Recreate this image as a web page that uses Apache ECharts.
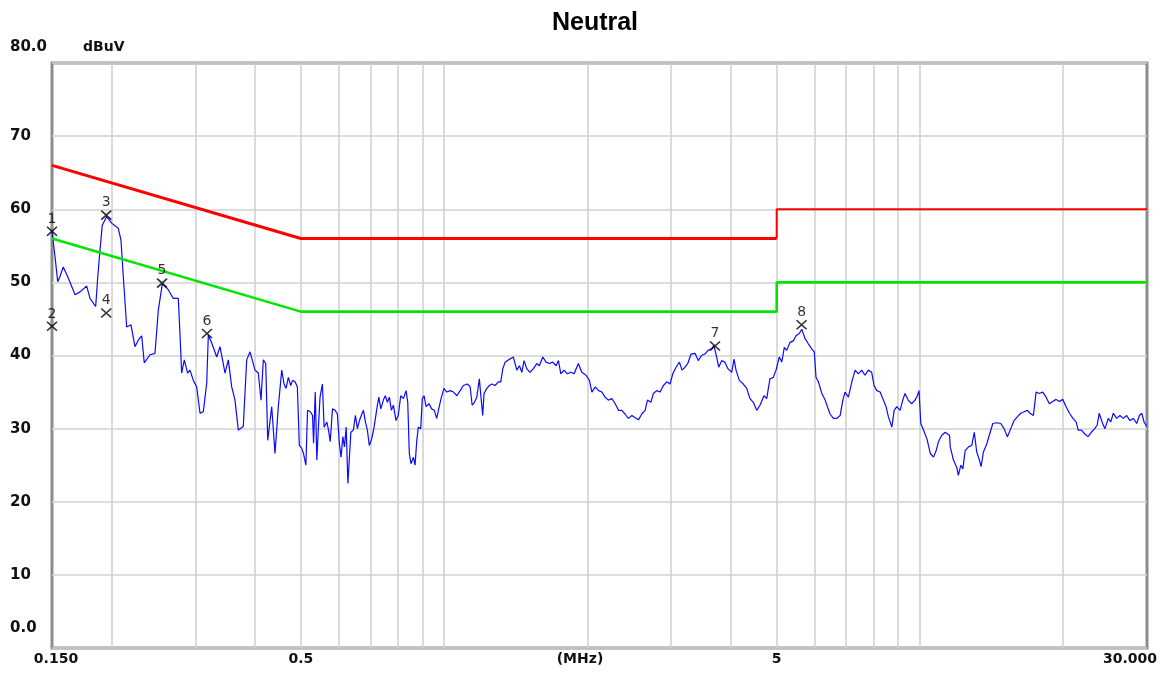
<!DOCTYPE html>
<html>
<head>
<meta charset="utf-8">
<script src="https://cdn.jsdelivr.net/npm/echarts@6/dist/echarts.min.js"></script>
<style>
html,body{margin:0;padding:0;background:#fff;}
#chart{width:1161px;height:673px;}
</style>
</head>
<body>
<div id="chart"></div>
<script>
// ---- data ----
const titleText = 'Neutral';
const yUnit = 'dBuV';
const xUnit = '(MHz)';
const xTickValues = [0.15, 0.5, 5, 30];
const xTickLabels = ['0.150', '0.5', '5', '30.000'];
const yTickValues = [0, 10, 20, 30, 40, 50, 60, 70, 80];
const gridFreqs = [0.2, 0.3, 0.4, 0.5, 0.6, 0.7, 0.8, 0.9, 1, 2, 3, 4, 5, 6, 7, 8, 9, 10, 20];

const qpLimitA = [[0.15, 66], [0.5, 56], [5, 56]];
const qpLimitB = [[5, 56], [5, 60], [30, 60]];
const avLimit = [[0.15, 56], [0.5, 46], [5, 46], [5, 50], [30, 50]];

const markerFreq = [0.150, 0.150, 0.195, 0.195, 0.2555, 0.3175, 3.71, 5.64];
const markerVal  = [57.0, 44.0, 59.2, 45.8, 49.9, 43.0, 41.3, 44.2];
const markerName = ['1', '2', '3', '4', '5', '6', '7', '8'];

const trace = [
[0.150,57.0],[0.1522,53.5],[0.1542,50.1],[0.1559,50.8],[0.1584,52.1],[0.1623,50.6],[0.1677,48.3],[0.1718,48.7],
[0.1774,49.5],[0.1803,47.8],[0.1853,46.7],[0.1871,50.6],[0.1892,54.4],[0.1913,57.8],[0.1954,59.0],[0.2002,58.1],
[0.2067,57.4],[0.2094,55.8],[0.2118,50.8],[0.2153,43.9],[0.2198,44.2],[0.2241,41.2],[0.2277,42.1],[0.2315,42.7],
[0.2344,39.0],[0.2410,40.1],[0.2469,40.3],[0.2509,46.2],[0.2558,49.8],[0.2633,49.0],[0.2697,47.8],[0.2764,47.8],
[0.2786,43.0],[0.2809,37.6],[0.2845,39.4],[0.2892,37.6],[0.2925,38.0],[0.2972,36.6],[0.3021,35.7],[0.3070,32.1],
[0.3119,32.3],[0.3171,36.2],[0.3196,42.8],[0.3249,41.7],[0.3328,39.8],[0.3382,41.2],[0.3465,37.6],[0.3520,39.4],
[0.3579,35.7],[0.3636,33.9],[0.3695,29.8],[0.3785,30.3],[0.3848,39.4],[0.3910,40.5],[0.4006,38.0],[0.4070,37.6],
[0.4124,33.9],[0.4170,39.4],[0.4219,38.9],[0.4260,28.4],[0.4343,33.0],[0.4413,26.6],[0.4484,33.0],[0.4559,38.0],
[0.458,38.2],[0.461,36.1],[0.4655,35.5],[0.4707,37.0],[0.4761,35.9],[0.4807,36.6],[0.4862,36.4],[0.4917,35.7],
[0.4964,27.7],[0.5023,27.3],[0.5064,26.6],[0.5124,25.0],[0.5165,32.5],[0.5234,32.3],[0.5292,31.8],[0.5318,28.0],
[0.5361,35.0],[0.5403,25.7],[0.5444,30.2],[0.5487,34.3],[0.555,36.1],[0.5597,30.2],[0.5672,30.9],[0.5717,29.8],
[0.5764,28.2],[0.5828,32.7],[0.5903,32.5],[0.5967,32.0],[0.6024,28.0],[0.6076,26.1],[0.6127,28.9],[0.6176,27.5],
[0.6227,30.2],[0.6279,22.5],[0.6318,22.3],[0.637,29.5],[0.6448,29.8],[0.651,31.8],[0.6575,30.0],[0.664,31.1],
[0.6718,32.0],[0.677,32.5],[0.6835,30.9],[0.69,29.8],[0.6964,27.7],[0.7046,28.6],[0.7127,30.2],[0.7222,32.7],
[0.7292,34.3],[0.7363,32.7],[0.7454,33.9],[0.7526,34.5],[0.7601,33.6],[0.7675,34.3],[0.775,32.5],[0.7825,33.2],
[0.7925,31.1],[0.8012,31.8],[0.8108,34.5],[0.8212,34.1],[0.832,35.2],[0.8388,33.6],[0.8452,26.6],[0.8521,25.2],
[0.8619,26.1],[0.869,25.0],[0.8763,28.4],[0.883,30.2],[0.8932,30.0],[0.9,34.1],[0.9076,34.5],[0.9165,33.0],
[0.9299,33.4],[0.9419,32.7],[0.9538,32.5],[0.9651,31.4],[0.9745,32.7],[0.9854,34.1],[0.9995,35.5],[1.0132,35.0],
[1.0299,35.2],[1.0467,35.0],[1.064,34.5],[1.0808,35.2],[1.0975,35.9],[1.1195,36.1],[1.1345,35.7],[1.1456,33.2],
[1.1583,33.6],[1.1717,34.3],[1.1861,36.8],[1.1956,34.3],[1.2055,31.8],[1.2133,34.8],[1.2297,35.5],[1.2455,35.9],
[1.26,36.1],[1.28,35.9],[1.3,36.4],[1.3157,36.4],[1.3288,38.2],[1.3438,39.1],[1.3654,39.4],[1.3765,39.5],
[1.398,39.8],[1.4217,38.0],[1.44,38.6],[1.4567,37.7],[1.4728,39.3],[1.4916,38.2],[1.5158,37.7],[1.5406,38.2],
[1.5662,38.9],[1.5857,38.6],[1.612,39.8],[1.6384,39.1],[1.6648,38.9],[1.692,39.1],[1.7195,38.6],[1.739,39.3],
[1.7593,37.5],[1.7873,38.0],[1.8161,37.5],[1.8464,37.7],[1.8759,37.5],[1.9151,38.9],[1.9472,37.7],[1.9877,37.3],
[2.0203,36.6],[2.0447,35.0],[2.0782,35.7],[2.1117,35.2],[2.1462,35.0],[2.1797,34.3],[2.2144,33.9],[2.2522,34.1],
[2.2889,33.4],[2.3256,32.5],[2.3633,32.5],[2.4,32.0],[2.44,31.4],[2.4812,31.8],[2.5212,31.5],[2.5612,31.2],
[2.6026,32.0],[2.6455,32.5],[2.6754,33.9],[2.7195,33.6],[2.7532,34.8],[2.7974,35.2],[2.8437,35.0],[2.8901,35.9],
[2.938,36.4],[2.9845,36.1],[3.0239,37.5],[3.0731,38.4],[3.1224,39.1],[3.1627,38.0],[3.208,38.4],[3.2512,38.9],
[3.304,40.2],[3.368,40.3],[3.4208,39.3],[3.4752,40.0],[3.5312,40.2],[3.5871,40.7],[3.6492,40.9],[3.6903,41.4],
[3.7385,39.8],[3.7768,38.4],[3.8304,39.3],[3.8893,39.1],[3.9485,38.2],[4.0218,37.7],[4.0673,39.5],[4.1069,38.0],
[4.1723,36.6],[4.2542,36.1],[4.325,35.5],[4.3937,34.1],[4.4652,33.6],[4.5391,32.5],[4.6114,33.2],[4.7023,34.5],
[4.7636,34.1],[4.8386,36.8],[4.9171,37.0],[4.9833,38.0],[5.0642,39.8],[5.1235,39.1],[5.1877,41.1],[5.2469,40.7],
[5.3333,41.8],[5.4179,42.0],[5.4898,42.7],[5.5786,43.0],[5.6444,43.6],[5.7361,42.3],[5.8278,41.6],[5.9239,40.9],
[5.9972,40.5],[6.0485,37.0],[6.1182,36.4],[6.2212,34.8],[6.3212,33.9],[6.3909,33.0],[6.4727,32.0],[6.5784,31.4],
[6.6895,31.4],[6.7974,31.8],[6.8856,33.9],[6.9608,35.0],[7.0734,34.3],[7.1923,36.4],[7.3077,38.0],[7.4231,37.5],
[7.542,38.0],[7.6654,37.3],[7.7895,38.0],[7.9173,37.7],[8.0075,35.9],[8.1155,35.2],[8.2475,35.0],[8.3795,33.9],
[8.488,33.0],[8.5847,31.6],[8.7288,30.2],[8.8263,32.5],[8.9407,33.0],[9.0833,32.5],[9.2018,33.9],[9.3026,34.8],
[9.4474,33.9],[9.6058,33.4],[9.7644,33.9],[9.875,34.5],[9.9567,35.2],[10.0406,30.7],[10.1726,29.8],[10.3452,28.6],
[10.5127,26.6],[10.6802,26.1],[10.8173,27.0],[10.934,28.2],[11.1167,29.1],[11.3,29.5],[11.5389,29.1],[11.578,27.5],
[11.761,25.7],[11.95,24.7],[12.042,23.6],[12.187,25.0],[12.307,24.5],[12.446,27.0],[12.645,27.5],[12.849,27.7],
[13.007,29.5],[13.163,26.8],[13.333,25.7],[13.444,24.8],[13.595,26.8],[13.817,27.9],[13.987,29.1],[14.226,30.7],
[14.507,30.8],[14.789,30.7],[15.021,30.0],[15.267,28.9],[15.52,30.0],[15.769,31.1],[16.016,31.6],[16.288,32.1],
[16.552,32.3],[16.816,32.5],[17.034,32.1],[17.314,31.8],[17.542,35.0],[17.822,34.8],[18.116,35.0],[18.411,34.3],
[18.705,33.4],[19.009,33.7],[19.321,34.0],[19.632,33.7],[19.953,34.0],[20.284,33.0],[20.619,32.1],[20.964,31.4],
[21.299,30.9],[21.502,29.8],[21.838,29.8],[22.18,29.3],[22.547,28.9],[22.913,29.5],[23.291,30.0],[23.58,30.5],
[23.802,32.1],[24.2,30.7],[24.479,30.0],[24.879,31.4],[25.17,30.9],[25.485,32.1],[25.897,31.4],[26.315,31.8],
[26.744,31.4],[27.186,31.8],[27.615,31.1],[28.068,31.4],[28.55,30.7],[28.915,31.8],[29.253,32.1],[29.577,30.9],
[29.958,30.3]
];

// ---- chart ----
const FONT = 'DejaVu Sans';
const chart = echarts.init(document.getElementById('chart'), null, {renderer: 'canvas'});

function xLabel(v) {
  let best = 0, bd = Infinity;
  xTickValues.forEach((t, i) => { const d = Math.abs(Math.log(v) - Math.log(t)); if (d < bd) { bd = d; best = i; } });
  if (best === 0) return '{a|' + xTickLabels[0] + '}';
  if (best === xTickLabels.length - 1) return '{b|' + xTickLabels[best] + '}';
  return xTickLabels[best];
}

const markerData = markerFreq.map((f, i) => ({value: [f, markerVal[i]], name: markerName[i]}));

chart.setOption({
  animation: false,
  backgroundColor: '#ffffff',
  title: {
    text: titleText,
    left: 590,
    top: 6,
    textAlign: 'center',
    textStyle: {fontFamily: 'Liberation Sans', fontWeight: 'bold', fontSize: 25, color: '#000'}
  },
  grid: {
    left: 52, right: 14, top: 63, bottom: 25,
    outerBoundsMode: 'none',
    containLabel: false,
    show: true, borderColor: '#8c8c8c', borderWidth: 3, backgroundColor: '#fff'
  },
  xAxis: {
    type: 'log', logBase: 10, min: 0.15, max: 30,
    name: xUnit, nameLocation: 'middle', nameGap: 4,
    nameMoveOverlap: false,
    nameTextStyle: {fontFamily: FONT, fontWeight: 'bold', fontSize: 14, color: '#111', padding: [0, 39, 0, 0], verticalAlign: 'top'},
    axisLine: {show: false},
    axisTick: {show: false},
    splitLine: {show: false},
    minorSplitLine: {show: false},
    axisLabel: {
      customValues: xTickValues,
      margin: 4,
      fontFamily: FONT, fontWeight: 'bold', fontSize: 14, color: '#111',
      formatter: xLabel,
      rich: {
        a: {fontFamily: FONT, fontWeight: 'bold', fontSize: 14, color: '#111', padding: [0, 0, 0, 8]},
        b: {fontFamily: FONT, fontWeight: 'bold', fontSize: 14, color: '#111', padding: [0, 34, 0, 0]}
      }
    }
  },
  yAxis: {
    type: 'value', min: 0, max: 80, interval: 10,
    axisLine: {show: false},
    axisTick: {show: false},
    splitLine: {show: true, lineStyle: {color: '#d2d2d2', width: 1.5}},
    axisLabel: {
      align: 'left',
      margin: 42,
      fontFamily: FONT, fontWeight: 'bold', fontSize: 15, color: '#111',
      formatter: function (v) {
        if (v === yTickValues[yTickValues.length - 1]) return '{t|' + v.toFixed(1) + '}{u|' + yUnit + '}';
        if (v === yTickValues[0]) return '{z|' + v.toFixed(1) + '}';
        return String(v);
      },
      rich: {
        t: {fontFamily: FONT, fontWeight: 'bold', fontSize: 15, color: '#111', padding: [0, 0, 31, 0]},
        u: {fontFamily: FONT, fontWeight: 'bold', fontSize: 14, color: '#111', padding: [0, 0, 31, 36]},
        z: {fontFamily: FONT, fontWeight: 'bold', fontSize: 15, color: '#111', padding: [0, 0, 40, 0]}
      }
    }
  },
  series: [
    {
      type: 'line', data: [], z: 1, silent: true,
      markLine: {
        z: 1,
        silent: true, symbol: 'none', animation: false,
        label: {show: false},
        lineStyle: {color: '#cfcfcf', width: 1.5, type: 'solid'},
        data: gridFreqs.map(f => ({xAxis: f}))
      }
    },
    {
      type: 'line', data: trace, z: 3, showSymbol: false, symbol: 'none',
      lineStyle: {color: '#0a0aff', width: 1.2}
    },
    {
      type: 'line', data: qpLimitA, z: 4, showSymbol: false, symbol: 'none',
      lineStyle: {color: '#ff0000', width: 3}
    },
    {
      type: 'line', data: qpLimitB, z: 4, showSymbol: false, symbol: 'none',
      lineStyle: {color: '#ff0000', width: 2}
    },
    {
      type: 'line', data: avLimit, z: 4, showSymbol: false, symbol: 'none',
      lineStyle: {color: '#00e600', width: 2.6}
    },
    {
      type: 'scatter', data: markerData, z: 6, clip: false,
      symbol: 'path://M0,0L10,10M10,0L0,10',
      symbolSize: [10, 9],
      itemStyle: {color: 'rgba(0,0,0,0)', borderColor: '#000', borderWidth: 1.6},
      label: {
        show: true, position: 'top', distance: 0,
        formatter: p => p.name,
        fontFamily: FONT, fontSize: 14, color: '#000'
      }
    }
  ]
});
</script>
</body>
</html>
